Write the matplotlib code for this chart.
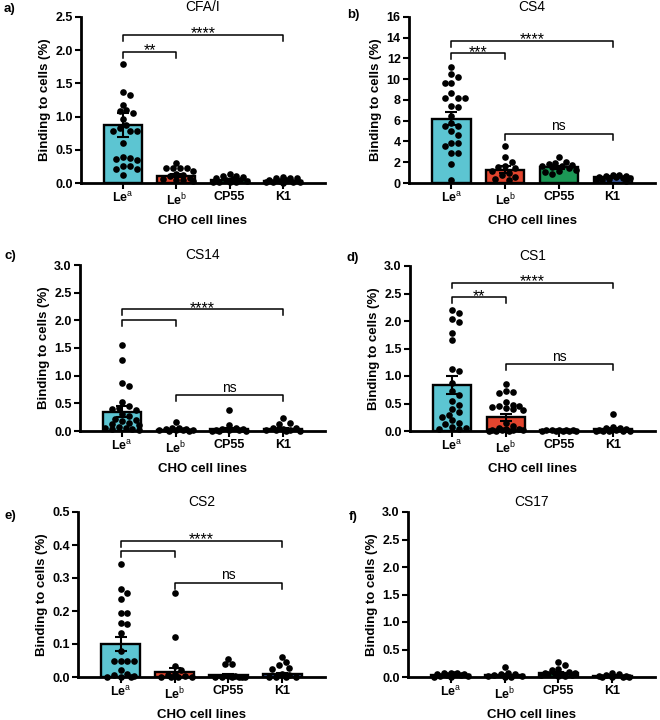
import numpy as np
import matplotlib
matplotlib.use("Agg")
import matplotlib.pyplot as plt

plt.rcParams['font.family'] = ['Liberation Sans', 'DejaVu Sans']
plt.rcParams['mathtext.fontset'] = 'custom'
plt.rcParams['mathtext.rm'] = 'Liberation Sans'
plt.rcParams['mathtext.bf'] = 'Liberation Sans:bold'

# ---------------- data ----------------
categories = ['Le$^{\\mathrm{a}}$', 'Le$^{\\mathrm{b}}$', 'CP55', 'K1']
bar_colors = ['#5CC5D2', '#E2452E', '#1C9856', '#3E5EA6']
titles = ['CFA/I', 'CS4', 'CS14', 'CS1', 'CS2', 'CS17']
letters = ['a)', 'b)', 'c)', 'd)', 'e)', 'f)']
ymax = [2.5, 16, 3.0, 3.0, 0.5, 3.0]
ystep = [0.5, 2, 0.5, 0.5, 0.1, 0.5]
ydec = [1, 0, 1, 1, 1, 1]

# panel a: CFA/I
a_Lea = [1.79, 1.37, 1.33, 1.18, 1.10, 1.09, 1.06, 0.96, 0.87, 0.83, 0.79, 0.78,
         0.78, 0.60, 0.39, 0.38, 0.36, 0.35, 0.25, 0.25, 0.21, 0.21, 0.12]
a_Leb = [0.30, 0.22, 0.22, 0.22, 0.22, 0.18, 0.14, 0.12, 0.10, 0.08, 0.06, 0.05, 0.04, 0.03]
a_CP55 = [0.13, 0.11, 0.11, 0.09, 0.08, 0.06, 0.05, 0.04, 0.03, 0.02, 0.02, 0.01, 0.01]
a_K1 = [0.09, 0.08, 0.08, 0.07, 0.05, 0.04, 0.03, 0.02, 0.02, 0.01, 0.01, 0.0]
a_mean = [0.88, 0.11, 0.05, 0.03]
a_sem = [0.18, 0.02, 0.01, 0.01]

# panel b: CS4
b_Lea = [11.2, 10.5, 10.2, 9.6, 9.6, 8.7, 8.2, 8.2, 8.2, 7.4, 7.3, 6.5, 5.8, 5.5,
         5.5, 5.0, 4.6, 3.9, 3.9, 3.6, 2.9, 2.9, 1.8, 0.3]
b_Leb = [3.6, 2.5, 2.0, 1.6, 1.5, 1.4, 1.2, 1.0, 0.8, 0.6, 0.4, 0.3]
b_CP55 = [2.5, 2.0, 1.9, 1.8, 1.7, 1.6, 1.6, 1.5, 1.4, 1.3, 1.2, 1.1, 0.9]
b_K1 = [0.8, 0.8, 0.7, 0.7, 0.6, 0.6, 0.5, 0.5, 0.4, 0.3, 0.3, 0.2]
b_mean = [6.2, 1.3, 1.5, 0.6]
b_sem = [0.6, 0.3, 0.15, 0.08]

# panel c: CS14
c_Lea = [1.56, 1.28, 0.86, 0.81, 0.52, 0.46, 0.42, 0.40, 0.38, 0.30, 0.28, 0.22,
         0.20, 0.18, 0.15, 0.12, 0.10, 0.08, 0.06, 0.05, 0.04, 0.03, 0.02]
c_Leb = [0.16, 0.06, 0.05, 0.04, 0.03, 0.02, 0.02, 0.01, 0.01, 0.0, 0.0]
c_CP55 = [0.38, 0.11, 0.05, 0.04, 0.03, 0.02, 0.01, 0.01, 0.0, 0.0, 0.0]
c_K1 = [0.23, 0.14, 0.13, 0.06, 0.05, 0.03, 0.02, 0.01, 0.01, 0.0, 0.0]
c_mean = [0.35, 0.02, 0.03, 0.04]
c_sem = [0.10, 0.01, 0.02, 0.015]

# panel d: CS1
d_Lea = [2.20, 2.14, 2.03, 1.99, 1.79, 1.65, 1.13, 1.10, 0.88, 0.72, 0.65, 0.55,
         0.47, 0.40, 0.34, 0.30, 0.25, 0.20, 0.15, 0.12, 0.08, 0.06, 0.04, 0.03]
d_Leb = [0.85, 0.73, 0.71, 0.69, 0.52, 0.48, 0.46, 0.45, 0.44, 0.42, 0.40, 0.38,
         0.15, 0.10, 0.06, 0.04, 0.03, 0.02, 0.02, 0.01, 0.01, 0.0, 0.0, 0.0]
d_CP55 = [0.02, 0.02, 0.01, 0.01, 0.01, 0.0, 0.0, 0.0, 0.0, 0.0]
d_K1 = [0.31, 0.08, 0.06, 0.05, 0.03, 0.02, 0.01, 0.0, 0.0, 0.0, 0.0, 0.0]
d_mean = [0.84, 0.25, 0.01, 0.03]
d_sem = [0.16, 0.06, 0.005, 0.02]

# panel e: CS2
e_Lea = [0.342, 0.267, 0.255, 0.236, 0.195, 0.193, 0.165, 0.160, 0.134, 0.08, 0.05,
         0.047, 0.047, 0.05, 0.02, 0.01, 0.005, 0.003, 0.0, 0.0, 0.0]
e_Leb = [0.255, 0.12, 0.033, 0.02, 0.01, 0.005, 0.003, 0.0, 0.0, 0.0, 0.0]
e_CP55 = [0.055, 0.039, 0.039, 0.004, 0.002, 0.0, 0.0, 0.0, 0.0, 0.0, 0.0]
e_K1 = [0.062, 0.045, 0.035, 0.027, 0.025, 0.01, 0.005, 0.0, 0.0, 0.0, 0.0]
e_mean = [0.10, 0.016, 0.005, 0.008]
e_sem = [0.022, 0.012, 0.003, 0.004]

# panel f: CS17
f_Lea = [0.08, 0.07, 0.07, 0.06, 0.06, 0.05, 0.04, 0.03, 0.02, 0.01, 0.0, 0.0]
f_Leb = [0.18, 0.07, 0.06, 0.05, 0.03, 0.02, 0.01, 0.0, 0.0]
f_CP55 = [0.28, 0.21, 0.15, 0.12, 0.10, 0.08, 0.07, 0.06, 0.05, 0.05, 0.04, 0.03, 0.02, 0.01]
f_K1 = [0.08, 0.05, 0.03, 0.02, 0.01, 0.0, 0.0, 0.0, 0.0]
f_mean = [0.04, 0.04, 0.07, 0.02]
f_sem = [0.01, 0.02, 0.02, 0.01]

# significance brackets: (from, to, y, label)
a_sig = [(0, 3, 2.23, '****'), (0, 1, 1.98, '**')]
b_sig = [(0, 3, 13.7, '****'), (0, 1, 12.5, '***'), (1, 3, 4.76, 'ns')]
c_sig = [(0, 3, 2.20, '****'), (0, 1, 2.00, ''), (1, 3, 0.65, 'ns')]
d_sig = [(0, 3, 2.70, '****'), (0, 1, 2.43, '**'), (1, 3, 1.21, 'ns')]
e_sig = [(0, 3, 0.413, '****'), (0, 1, 0.381, ''), (1, 3, 0.285, 'ns')]
f_sig = []

points = [[a_Lea, a_Leb, a_CP55, a_K1], [b_Lea, b_Leb, b_CP55, b_K1],
          [c_Lea, c_Leb, c_CP55, c_K1], [d_Lea, d_Leb, d_CP55, d_K1],
          [e_Lea, e_Leb, e_CP55, e_K1], [f_Lea, f_Leb, f_CP55, f_K1]]
means = [a_mean, b_mean, c_mean, d_mean, e_mean, f_mean]
sems = [a_sem, b_sem, c_sem, d_sem, e_sem, f_sem]
sigs = [a_sig, b_sig, c_sig, d_sig, e_sig, f_sig]

# ---------------- layout ----------------
W, H = 660, 720
fig = plt.figure(figsize=(W / 100, H / 100), dpi=100)
# (left, right, top, bottom) in pixels
boxes = [(81, 325, 17, 183), (409, 655, 17, 183),
         (80, 325, 265, 431), (410, 655, 266, 431),
         (78, 325, 512, 677), (408, 655, 512, 677)]


def swarm_offsets(ax, xc, vals, dpx, maxw):
    order = np.argsort(vals)[::-1]
    pys = [ax.transData.transform((xc, v))[1] for v in vals]
    px0 = ax.transData.transform((xc, 0))[0]
    ppu = ax.transData.transform((xc + 1, 0))[0] - px0
    placed = []
    offs = np.zeros(len(vals))
    cands = sorted([s * k * dpx * 0.5 for k in range(0, 40) for s in (1, -1)
                    if k * dpx * 0.5 <= maxw], key=abs)
    for i in order:
        py = pys[i]
        best, bestd = 0.0, -1
        chosen = None
        for c in cands:
            md = min([np.hypot(c - qx, py - qy) for (qx, qy) in placed] or [1e9])
            if md >= dpx * 0.92:
                chosen = c
                break
            if md > bestd:
                bestd, best = md, c
        if chosen is None:
            chosen = best
        placed.append((chosen, py))
        offs[i] = chosen / ppu
    return offs


for p in range(6):
    l, r, t, b = boxes[p]
    ax = fig.add_axes([l / W, 1 - b / H, (r - l) / W, (b - t) / H])
    ax.set_xlim(-0.79, 3.79)
    ax.set_ylim(0, ymax[p])
    x = np.arange(4)
    ax.bar(x, means[p], width=0.71, color=bar_colors, edgecolor='black',
           linewidth=1.7, zorder=2)
    for i in range(4):
        vals = np.array(points[p][i], dtype=float)
        offs = swarm_offsets(ax, i, vals, 6.8, 18)
        ax.scatter(i + offs, vals, s=23, color='black', linewidths=0, zorder=3,
                   clip_on=False)
    ax.errorbar(x, means[p], yerr=sems[p], fmt='none', ecolor='black',
                elinewidth=1.5, capsize=4.5, capthick=1.5, zorder=4)
    for (i0, i1, yb, lab) in sigs[p]:
        drop = ymax[p] * 0.036
        ax.plot([i0, i0, i1, i1], [yb - drop, yb, yb, yb - drop], color='black',
                lw=1.1, zorder=5, clip_on=False)
        if lab == 'ns':
            ax.annotate(lab, ((i0 + i1) / 2, yb), xytext=(0, 2.5),
                        textcoords='offset points', ha='center', va='baseline',
                        fontsize=10)
        elif lab:
            ax.annotate(lab, ((i0 + i1) / 2, yb), xytext=(0, -2.5),
                        textcoords='offset points', ha='center', va='baseline',
                        fontsize=11.5)
    for s in ['top', 'right']:
        ax.spines[s].set_visible(False)
    for s in ['left', 'bottom']:
        ax.spines[s].set_linewidth(2.0)
    ax.set_xticks(x)
    ax.set_xticklabels(categories, fontsize=9, fontweight='bold')
    yt = np.arange(0, ymax[p] + 1e-9, ystep[p])
    ax.set_yticks(yt)
    ax.set_yticklabels([f'{v:.{ydec[p]}f}' for v in yt], fontsize=9, fontweight='bold')
    ax.tick_params(axis='both', direction='out', length=4, width=1.5, pad=2)
    ax.set_ylabel('Binding to cells (%)', fontsize=9.5, fontweight='bold', labelpad=3)
    ax.set_title(titles[p], fontsize=10, pad=4)
    ax.set_xlabel('CHO cell lines', fontsize=9.5, fontweight='bold', labelpad=5)
    lx = 10 if p % 2 == 0 else 353
    ly = [9, 15, 256, 258, 516, 517][p]
    fig.text(lx / W, 1 - ly / H, letters[p], fontsize=9.5, fontweight='bold',
             ha='center', va='center')

fig.savefig('out.png', dpi=100)
